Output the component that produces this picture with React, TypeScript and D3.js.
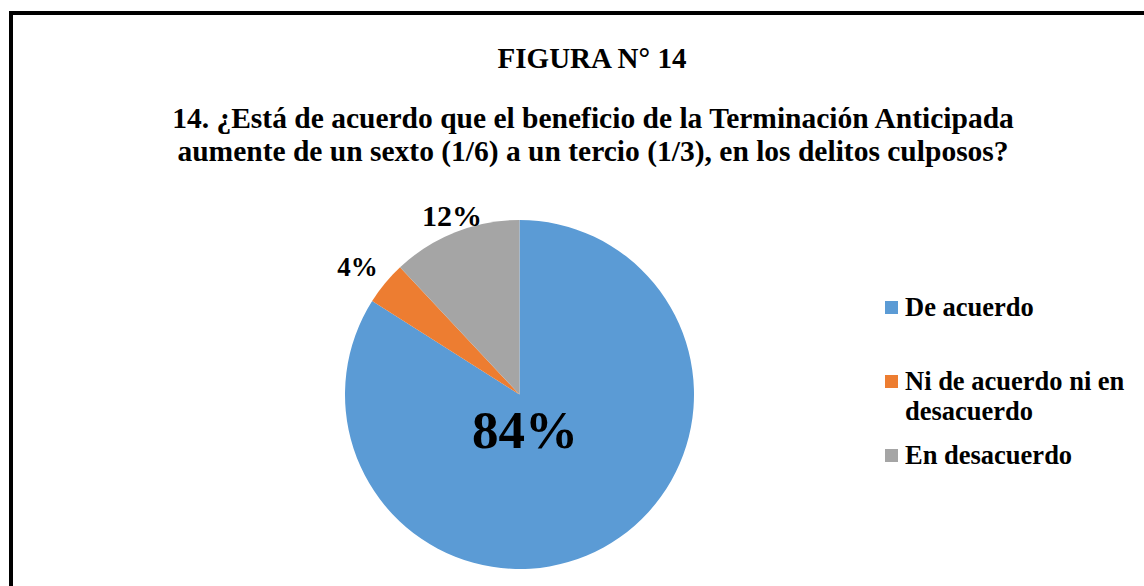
import React from "react";
import * as d3 from "d3";

const categories = ["De acuerdo", "Ni de acuerdo ni en desacuerdo", "En desacuerdo"];
const values = [84, 4, 12];
const colors = ["#5B9BD5", "#ED7D31", "#A5A5A5"];
const legendLines = [["De acuerdo"], ["Ni de acuerdo ni en", "desacuerdo"], ["En desacuerdo"]];
const title = "FIGURA N° 14";
const subtitle = [
  "14. ¿Está de acuerdo que el beneficio de la Terminación Anticipada",
  "aumente de un sexto (1/6) a un tercio (1/3), en los delitos culposos?",
];

const FONT = "'Liberation Serif', 'Times New Roman', serif";

export default function App() {
  const cx = 519.5;
  const cy = 394.5;
  const r = 174.5;
  const pie = d3.pie<number>().sort(null).value((d) => d);
  const arcs = pie(values);
  const arc = d3.arc<d3.PieArcDatum<number>>().innerRadius(0).outerRadius(r);
  const labelPos: [number, number, number][] = [
    [525, 448, 53],
    [357.5, 276, 27],
    [452, 226, 30],
  ];
  const legendY = [316, 390, 464];
  return (
    <svg
      width={1144}
      height={586}
      style={{ position: "absolute", left: 0, top: 0, background: "#fff" }}
    >
      <rect x={11} y={13} width={1150} height={600} fill="#fff" stroke="#000" strokeWidth={4} />
      <text x={592} y={68} textAnchor="middle" fontFamily={FONT} fontWeight="bold" fontSize={29}>
        {title}
      </text>
      {subtitle.map((s, i) => (
        <text key={i} x={593} y={128 + i * 33} textAnchor="middle" fontFamily={FONT} fontWeight="bold" fontSize={29.5}>
          {s}
        </text>
      ))}
      <g transform={`translate(${cx},${cy})`}>
        {arcs.map((a, i) => (
          <path key={i} d={arc(a) || ""} fill={colors[i]} />
        ))}
      </g>
      {arcs.map((a, i) => (
        <text
          key={i}
          x={labelPos[i][0]}
          y={labelPos[i][1]}
          textAnchor="middle"
          fontFamily={FONT}
          fontWeight="bold"
          fontSize={labelPos[i][2]}
        >
          {`${values[i]}%`}
        </text>
      ))}
      {categories.map((c, i) => (
        <g key={c}>
          <rect x={885} y={legendY[i] - 15} width={13} height={13} fill={colors[i]} />
          {legendLines[i].map((l, j) => (
            <text key={j} x={905} y={legendY[i] + j * 30} fontFamily={FONT} fontWeight="bold" fontSize={26.5}>
              {l}
            </text>
          ))}
        </g>
      ))}
    </svg>
  );
}
